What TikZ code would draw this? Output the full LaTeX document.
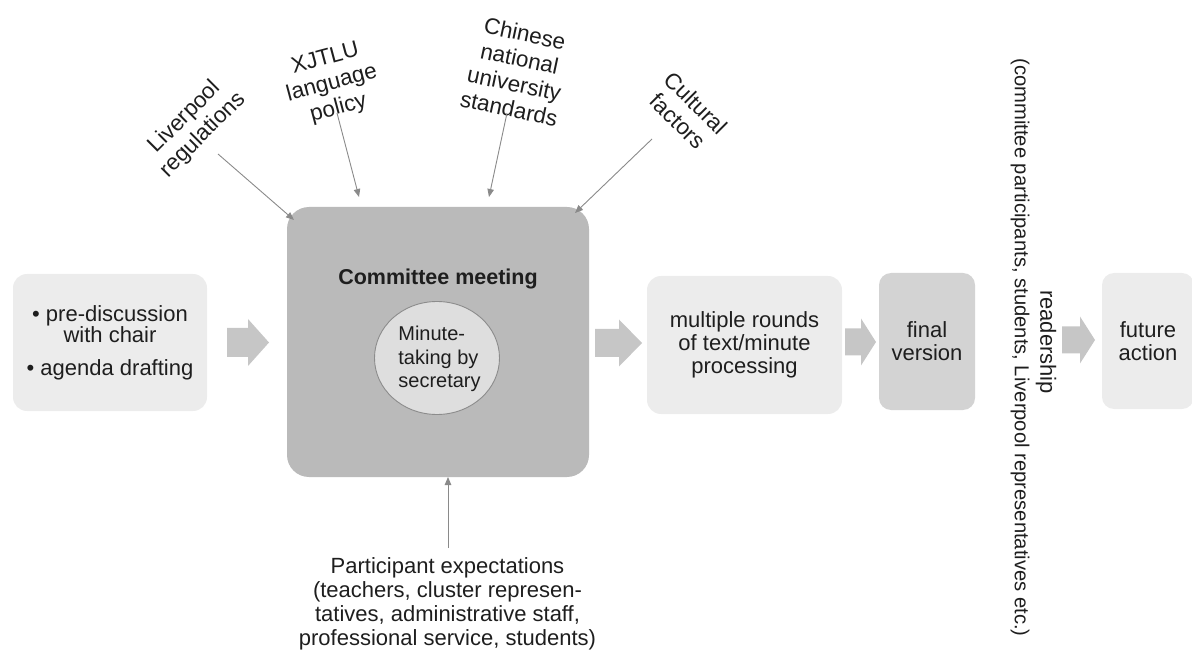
\documentclass[tikz,border=0pt]{standalone}
\usepackage{fontspec}
\setmainfont{Liberation Sans}
\usetikzlibrary{arrows.meta,shapes.geometric}
\definecolor{lightbox}{HTML}{ECECEC}
\definecolor{midbox}{HTML}{D3D3D3}
\definecolor{darkbox}{HTML}{BABABA}
\definecolor{circfill}{HTML}{DEDEDE}
\definecolor{circline}{HTML}{8C8C8C}
\definecolor{blockarr}{HTML}{C6C6C6}
\definecolor{connline}{HTML}{8A8A8A}
\definecolor{ink}{HTML}{1E1E1E}
\newcommand{\blockarrow}[5]{% x1, xhead, xtip, yc, halfshaft
  \fill[blockarr] (#1,#4-#5) -- (#2,#4-#5) -- (#2,#4-23.5) -- (#3,#4) -- (#2,#4+23.5) -- (#2,#4+#5) -- (#1,#4+#5) -- cycle;}
\begin{document}
\begin{tikzpicture}[x=1pt,y=-1pt,
  txt/.style={font=\fontsize{22}{23}\selectfont, text=ink, align=center, inner sep=0pt},
  lbl/.style={txt, font=\fontsize{22.5}{25.5}\selectfont},
  box/.style={rectangle, rounded corners=14pt, inner sep=0pt, txt},
  conn/.style={draw=connline, line width=0.9pt, -{Triangle[length=8pt,width=6.5pt]}}
]
\useasboundingbox (0,0) rectangle (1192,660);

% main process boxes
\node[box, fill=lightbox, minimum width=194pt, minimum height=137pt, font=\fontsize{22}{21}\selectfont] (pre) at (110,342.5)
  {\textbullet\ pre-discussion\\with chair\\[12pt]\textbullet\ agenda drafting};
\node[rectangle, rounded corners=22pt, fill=darkbox, minimum width=302pt, minimum height=270pt, inner sep=0pt] (comm) at (438,342) {};
\node[txt, font=\bfseries\fontsize{21.5}{23}\selectfont] (title) at (438,279) {Committee meeting};
\node[ellipse, fill=circfill, draw=circline, line width=0.9pt, minimum width=125pt, minimum height=113pt, inner sep=0pt] (circ) at (437,358) {};
\node[txt, align=left, font=\fontsize{20}{23.5}\selectfont] (circtxt) at (439.5,359) {Minute-\\taking by\\secretary};
\node[box, fill=lightbox, minimum width=195pt, minimum height=138pt] (multi) at (744.5,345)
  {multiple rounds\\of text/minute\\processing};
\node[box, fill=midbox, rounded corners=12pt, minimum width=96pt, minimum height=137pt] (final) at (927,341.5)
  {final\\version};
\node[box, fill=lightbox, rounded corners=12pt, minimum width=92pt, minimum height=136pt] (future) at (1148,341)
  {future\\action};

% readership (vertical)
\node[txt, rotate=-90] (read) at (1046,342) {readership};
\node[txt, rotate=-90, font=\fontsize{20.2}{23}\selectfont] (readers) at (1020,347.5)
  {(committee participants, students, Liverpool representatives etc.)};

% block arrows
\blockarrow{227}{248}{269}{342.5}{14.5}
\blockarrow{595}{619}{642}{343}{14}
\blockarrow{845}{861}{876}{342}{13.5}
\blockarrow{1062}{1080}{1095}{340}{13.5}

% influencing factors
\node[lbl, rotate=45] (liv) at (194,126) {Liverpool\\regulations};
\node[lbl, rotate=15] (xj) at (332,84) {XJTLU\\language\\policy};
\node[lbl, rotate=-12] (cn) at (517,71) {Chinese\\national\\university\\standards};
\node[lbl, rotate=-45] (cf) at (687,112) {Cultural\\factors};
\node[txt, anchor=north, font=\fontsize{22}{24}\selectfont] (part) at (447.5,557)
  {Participant expectations\\(teachers, cluster represen-\\tatives, administrative staff,\\professional service, students)};

\coordinate (livs) at (218,154); \coordinate (live) at (294,220);
\coordinate (xjs) at (337,113);  \coordinate (xje) at (359,197);
\coordinate (cns) at (507,113);  \coordinate (cne) at (489,197);
\coordinate (cfs) at (652,139);  \coordinate (cfe) at (575,213);
\coordinate (parts) at (448,548); \coordinate (parte) at (448,477);

\draw[conn] (livs) -- (live);
\draw[conn] (xjs) -- (xje);
\draw[conn] (cns) -- (cne);
\draw[conn] (cfs) -- (cfe);
\draw[conn] (parts) -- (parte);
\end{tikzpicture}
\end{document}
